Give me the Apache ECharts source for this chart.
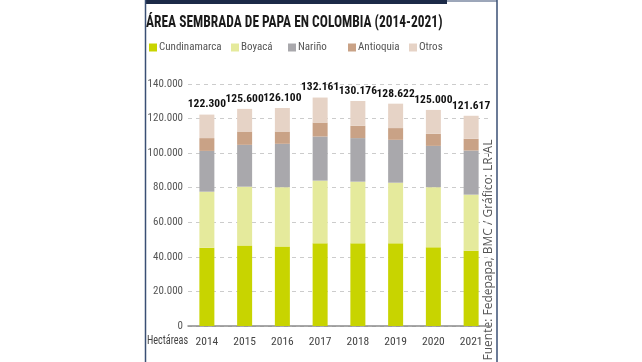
<!DOCTYPE html>
<html>
<head>
<meta charset="utf-8">
<script src="https://cdn.jsdelivr.net/npm/echarts@6/dist/echarts.min.js"></script>
<style>html,body{margin:0;padding:0;background:#fff;}#c{width:642px;height:362px;}</style>
</head>
<body>
<div id="c"></div>
<script>
const years = ['2014','2015','2016','2017','2018','2019','2020','2021'];
const cundinamarca = [45300, 46600, 46000, 47800, 47800, 47800, 45500, 43500];
const boyaca = [32400, 34000, 34300, 36300, 35700, 35100, 34800, 32500];
const narino = [23600, 24200, 25100, 25500, 25200, 24800, 23900, 25500];
const antioquia = [7400, 7700, 7100, 8100, 7100, 6800, 7000, 6800];
const otros = [13600, 13100, 13600, 14461, 14376, 14122, 13800, 13317];
const totals = ['122.300','125.600','126.100','132.161','130.176','128.622','125.000','121.617'];
const seriesNames = ['Cundinamarca','Boyacá','Nariño','Antioquia','Otros'];
const colors = ['#c8d400','#e5ea9c','#a9a8ac','#c9a286','#e6d3c6'];
const legendLefts = [149, 231, 288, 348, 409];

const NARROW = "'Roboto Condensed','Open Sans Condensed',sans-serif";
const chart = echarts.init(document.getElementById('c'));
const dataSets = [cundinamarca, boyaca, narino, antioquia, otros];
const series = dataSets.map((d, i) => ({
  name: seriesNames[i],
  type: 'bar',
  stack: 'total',
  data: d,
  barWidth: 15,
  itemStyle: {color: colors[i]},
  label: i === 4 ? {
    show: true, position: 'top', distance: 4,
    formatter: p => totals[p.dataIndex],
    fontFamily: NARROW, fontWeight: 'bold', fontSize: 11.5, color: '#111'
  } : {show: false}
}));

chart.setOption({
  animation: false,
  backgroundColor: '#fff',
  color: colors,
  legend: seriesNames.map((n, i) => ({
    left: legendLefts[i], top: 42,
    itemWidth: 8, itemHeight: 8, itemGap: 0, padding: 0,
    icon: 'rect',
    data: [n],
    textStyle: {fontFamily: NARROW, fontSize: 11, color: '#555', padding: [0,0,0,-3]}
  })),
  grid: {left: 188, right: 152, top: 84, bottom: 36, containLabel: false},
  xAxis: {
    type: 'category',
    data: years,
    axisLine: {lineStyle: {color: '#8a8a8a', width: 1.5}},
    axisTick: {show: false},
    axisLabel: {fontFamily: NARROW, fontSize: 11.5, color: '#444', margin: 10}
  },
  yAxis: {
    type: 'value',
    min: 0, max: 140000, interval: 20000,
    axisLine: {show: false},
    axisTick: {show: false},
    splitLine: {lineStyle: {color: '#cccccc', type: [4,4], width: 1}},
    axisLabel: {
      fontFamily: NARROW, fontSize: 11, color: '#555', margin: 5,
      formatter: v => v === 0 ? '0' : String(v).replace(/\B(?=(\d{3})+(?!\d))/g, '.')
    }
  },
  graphic: [
    {type: 'rect', shape: {x: 145, y: 0, width: 302, height: 4}, style: {fill: '#1c2a48'}},
    {type: 'line', shape: {x1: 447, y1: 1, x2: 497, y2: 1}, style: {stroke: '#3a4f74', lineWidth: 1}},
    {type: 'line', shape: {x1: 145.5, y1: 0, x2: 145.5, y2: 362}, style: {stroke: '#3a4f74', lineWidth: 1.5}},
    {type: 'line', shape: {x1: 497, y1: 0, x2: 497, y2: 362}, style: {stroke: '#3a4f74', lineWidth: 1.5}},
    {type: 'text', x: 146, y: 23, scaleX: 0.84,
      style: {text: 'ÁREA SEMBRADA DE PAPA EN COLOMBIA (2014-2021)', font: "bold 16px " + NARROW, fill: '#1a1a1a', textVerticalAlign: 'middle'}},
    {type: 'text', x: 147, y: 341, scaleX: 0.85,
      style: {text: 'Hectáreas', font: "12px " + NARROW, fill: '#444', textVerticalAlign: 'middle'}},
    {type: 'text', x: 489, y: 250, rotation: Math.PI / 2,
      style: {text: 'Fuente: Fedepapa, BMC / Gráfico: LR-AL', font: "12px 'Open Sans',sans-serif", fill: '#555', textAlign: 'center', textVerticalAlign: 'middle'}}
  ],
  series: series
});
</script>
</body>
</html>
